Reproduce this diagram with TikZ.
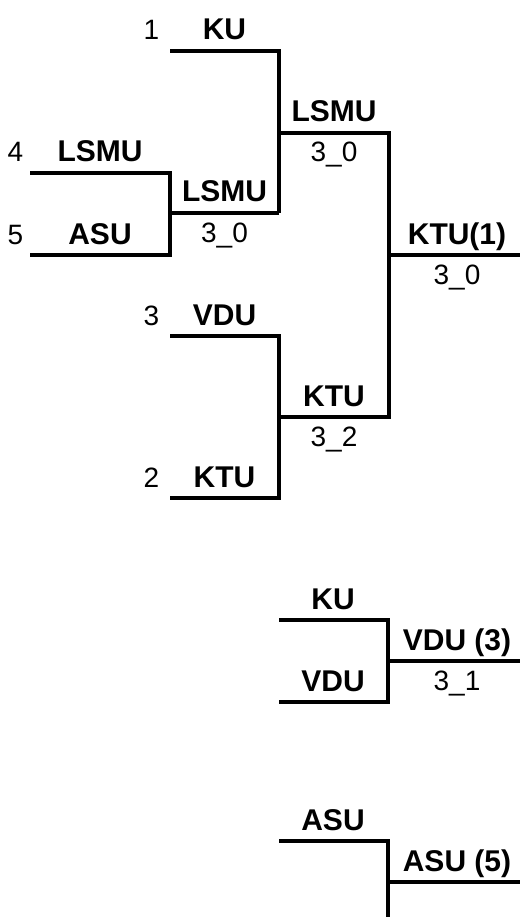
\documentclass[tikz,border=0pt]{standalone}
\usepackage{fontspec}
\setmainfont{Liberation Sans}

\begin{document}
\begin{tikzpicture}[x=1pt, y=-1pt, line width=3.5pt, line join=miter,
    team/.style={font=\fontsize{30}{36}\selectfont\bfseries, anchor=base, inner sep=0pt},
    score/.style={font=\fontsize{28}{34}\selectfont, anchor=base, inner sep=0pt},
    seed/.style={font=\fontsize{28}{34}\selectfont, anchor=base east, inner sep=0pt}]
            \useasboundingbox (0,0) rectangle (520,917);
            \clip (0,0) rectangle (520,917);

            % upper bracket
            \coordinate (s1a) at (170,51);  \coordinate (s1b) at (279,51);
            \coordinate (s4a) at (30,173);  \coordinate (s4b) at (170,173);
            \coordinate (s5a) at (30,255);  \coordinate (s5b) at (170,255);
            \coordinate (w45a) at (170,213); \coordinate (w45b) at (279,213);
            \coordinate (sfa) at (279,133); \coordinate (sfb) at (389,133);
            \coordinate (s3a) at (170,336); \coordinate (s3b) at (279,336);
            \coordinate (s2a) at (170,498); \coordinate (s2b) at (279,498);
            \coordinate (w23a) at (279,417); \coordinate (w23b) at (389,417);
            \coordinate (fa) at (389,255);  \coordinate (fb) at (520,255);

            \draw (s4a)--(s4b)--(s5b)--(s5a);
            \draw (w45a)--(w45b);
            \draw (s1a)--(s1b)--(w45b);
            \draw (sfa)--(sfb)--(w23b)--(w23a);
            \draw (s3a)--(s3b)--(s2b)--(s2a);
            \draw (fa)--(fb);

            % third place
            \coordinate (t1a) at (279,620); \coordinate (t1b) at (388,620);
            \coordinate (t2a) at (279,702); \coordinate (t2b) at (388,702);
            \coordinate (ta) at (388,661);  \coordinate (tb) at (520,661);
            \draw (t1a)--(t1b)--(t2b)--(t2a);
            \draw (ta)--(tb);

            % fifth place
            \coordinate (p1a) at (279,841); \coordinate (p1b) at (388,841);
            \coordinate (p2b) at (388,930);
            \coordinate (pa) at (388,882);  \coordinate (pb) at (520,882);
            \draw (p1a)--(p1b)--(p2b);
            \draw (pa)--(pb);

            % notation
            \node[seed] (n1) at (161,40) {1};
            \node[team] (ku) at (224.5,40) {KU};
            \node[seed] (n4) at (25,162) {4};
            \node[team] (lsmu) at (100,162) {LSMU};
            \node[seed] (n5) at (25,244) {5};
            \node[team] (asu) at (100,244) {ASU};
            \node[team] (lsmuA) at (224.5,202) {LSMU};
            \node[score] (scA) at (224.5,242) {3\_0};
            \node[team] (lsmuB) at (334,122) {LSMU};
            \node[score] (scB) at (334,162) {3\_0};
            \node[seed] (n3) at (161,325) {3};
            \node[team] (vdu) at (224.5,325) {VDU};
            \node[seed] (n2) at (161,487) {2};
            \node[team] (ktu) at (224.5,487) {KTU};
            \node[team] (ktuA) at (334,406) {KTU};
            \node[score] (scC) at (334,446) {3\_2};
            \node[team] (champ) at (457,244) {KTU(1)};
            \node[score] (scD) at (457,284) {3\_0};

            \node[team] (kuT) at (333,609) {KU};
            \node[team] (vduT) at (333,691) {VDU};
            \node[team] (third) at (457,650) {VDU (3)};
            \node[score] (scE) at (457,690) {3\_1};

            \node[team] (asuP) at (333,830) {ASU};
            \node[team] (fifth) at (457,871) {ASU (5)};
        \end{tikzpicture}
\end{document}
